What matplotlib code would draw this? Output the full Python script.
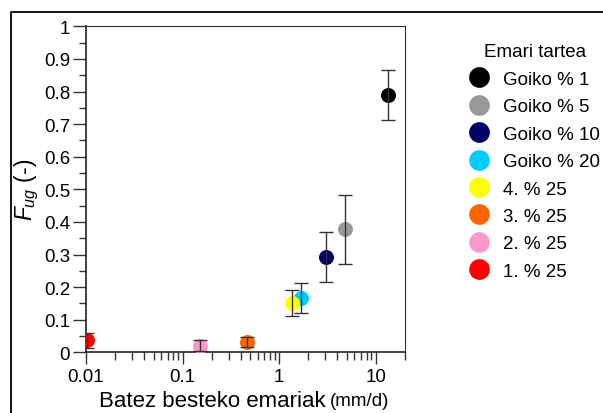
import matplotlib

matplotlib.use("Agg")

import matplotlib.pyplot as plt
from matplotlib.lines import Line2D
from matplotlib.ticker import FixedLocator, MultipleLocator, NullFormatter

plt.rcParams.update(
    {
        "font.family": ["Liberation Sans", "DejaVu Sans"],
        "font.size": 13.5,
        "mathtext.fontset": "custom",
        "mathtext.rm": "Liberation Sans",
        "mathtext.it": "Liberation Sans:italic",
    }
)

# series, in legend order
LABELS = ["Goiko % 1", "Goiko % 5", "Goiko % 10", "Goiko % 20",
          "4. % 25", "3. % 25", "2. % 25", "1. % 25"]
COLORS = ["#000000", "#999999", "#000066", "#00CCFF",
          "#FFFF00", "#FF6600", "#FF99CC", "#FF0000"]
FLOW = [13.2, 4.75, 3.06, 1.69, 1.36, 0.465, 0.150, 0.0103]
FUG = [0.789, 0.378, 0.293, 0.167, 0.151, 0.031, 0.020, 0.037]
FUG_ERR = [0.077, 0.106, 0.076, 0.046, 0.041, 0.016, 0.017, 0.023]

X_TICKS = [0.01, 0.1, 1, 10]
X_TICK_LABELS = ["0.01", "0.1", "1", "10"]

W, H = 603, 414
fig = plt.figure(figsize=(W / 100, H / 100), dpi=100)
ax = fig.add_axes([86 / W, 1 - 353.3 / H, (405 - 86) / W, (353.3 - 27.3) / H])

for lab, col, x, y in zip(LABELS, COLORS, FLOW, FUG):
    ax.plot(x, y, "o", color=col, markersize=10.8, markeredgewidth=0, label=lab, zorder=3)
for x, y, e in zip(FLOW, FUG, FUG_ERR):
    ax.errorbar(x, y, yerr=e, fmt="none", ecolor="#333333", elinewidth=1.0,
                capsize=5, capthick=1.0, zorder=4)

ax.set_xscale("log")
ax.set_xlim(0.01, 20)
ax.set_ylim(0, 1)
ax.xaxis.set_major_locator(FixedLocator(X_TICKS))
ax.set_xticklabels(X_TICK_LABELS)
ax.xaxis.set_minor_formatter(NullFormatter())
ax.yaxis.set_major_locator(MultipleLocator(0.1))
ax.yaxis.set_minor_locator(MultipleLocator(0.05))
ax.yaxis.set_major_formatter(lambda v, p: "0" if v == 0 else ("1" if abs(v - 1) < 1e-9 else f"{v:.1f}"))

ax.tick_params(which="major", direction="out", length=9.4, width=1.0, color="#333333", pad=2)
ax.tick_params(which="minor", direction="out", length=5.3, width=1.0, color="#333333")
ax.tick_params(axis="x", which="major", length=8.4, pad=3)
ax.tick_params(axis="x", which="minor", length=5.5)
for side in ("left", "bottom"):
    ax.spines[side].set_linewidth(1.2)
    ax.spines[side].set_color("#222222")
for side in ("top", "right"):
    ax.spines[side].set_linewidth(0.8)
    ax.spines[side].set_color("#333333")

# x label in two sizes, as in the original
fig.text(326 / W, 1 - 401.5 / H, "Batez besteko emariak", fontsize=16, ha="right", va="center")
fig.text(330 / W, 1 - 402 / H, "(mm/d)", fontsize=13.5, ha="left", va="center")
ax.set_ylabel("$F_{ug}$ (-)", fontsize=16.5, labelpad=2)

leg = ax.legend(loc="upper left", bbox_to_anchor=(460 / W, 1 - 35 / H),
                bbox_transform=fig.transFigure, frameon=False, title="Emari tartea",
                markerscale=1.38, handlelength=1.0, handletextpad=0.8,
                labelspacing=0.55, fontsize=13.5, title_fontsize=13.5, borderpad=0)

# outer frame, cut by the picture edge
fig.add_artist(Line2D([11 / W, 11 / W, 1.02], [-0.02, 1 - 13 / H, 1 - 13 / H],
                      transform=fig.transFigure, color="black", linewidth=1.3))

fig.savefig("out.png", dpi=100)
